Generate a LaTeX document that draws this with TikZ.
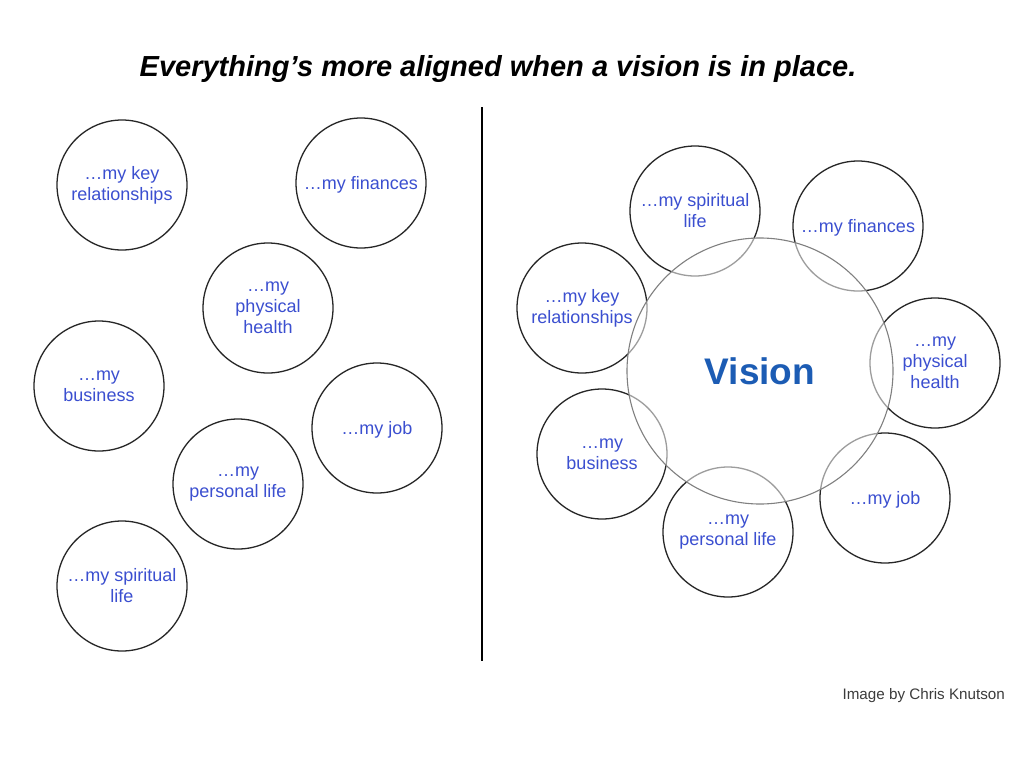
\documentclass[tikz,border=0pt]{standalone}
\usepackage{fontspec}
\setmainfont{Liberation Sans}
\definecolor{txtblue}{RGB}{59,79,208}
\definecolor{visblue}{RGB}{28,92,180}
\definecolor{credgray}{RGB}{60,60,60}
\begin{document}
\begin{tikzpicture}[x=1pt,y=-1pt,
  bub/.style={circle, draw=black!85, line width=1.3pt, minimum size=130pt, inner sep=0pt,
    text=txtblue, align=center, font=\fontsize{18}{21}\selectfont,
    execute at begin node={\rule{0pt}{17pt}}},
  visbub/.style={circle, draw=black!50, line width=1.1pt, minimum size=266pt, inner sep=0pt,
    fill=white, fill opacity=0.55, text opacity=1, text=visblue, font=\fontsize{37}{40}\bfseries\selectfont},
  titlestyle/.style={anchor=base, font=\fontsize{29}{33}\bfseries\itshape\selectfont, text=black},
  credstyle/.style={anchor=base east, inner sep=0pt, font=\fontsize{15.2}{18}\selectfont, text=credgray},
  divider/.style={line width=1.5pt, draw=black}
]
\useasboundingbox[fill=white] (0,0) rectangle (1024,768);

% title
\node[titlestyle] (title) at (498,76) {Everything’s more aligned when a vision is in place.};

% divider
\coordinate (divtop) at (482,107);
\coordinate (divbot) at (482,661);
\draw[divider] (divtop) -- (divbot);

% left side
\node[bub] (lkey)  at (122,185) {…my key\\relationships};
\node[bub] (lfin)  at (361,183) {…my finances};
\node[bub] (lphy)  at (268,308) {…my\\physical\\health};
\node[bub] (lbus)  at (99,386)  {…my\\business};
\node[bub] (ljob)  at (377,428) {…my job};
\node[bub] (lper)  at (238,484) {…my\\personal life};
\node[bub] (lspi)  at (122,586) {…my spiritual\\life};

% right side
\node[bub] (rspi)  at (695,211) {…my spiritual\\life};
\node[bub] (rfin)  at (858,226) {…my finances};
\node[bub] (rkey)  at (582,308) {…my key\\relationships};
\node[bub] (rphy)  at (935,363) {…my\\physical\\health};
\node[bub] (rbus)  at (602,454) {…my\\business};
\node[bub] (rjob)  at (885,498) {…my job};
\node[bub] (rper)  at (728,532) {…my\\personal life};

\node[visbub] (vision) at (760,371) {Vision};

% credit
\node[credstyle] (credit) at (1005,699) {Image by Chris Knutson};
\end{tikzpicture}
\end{document}
